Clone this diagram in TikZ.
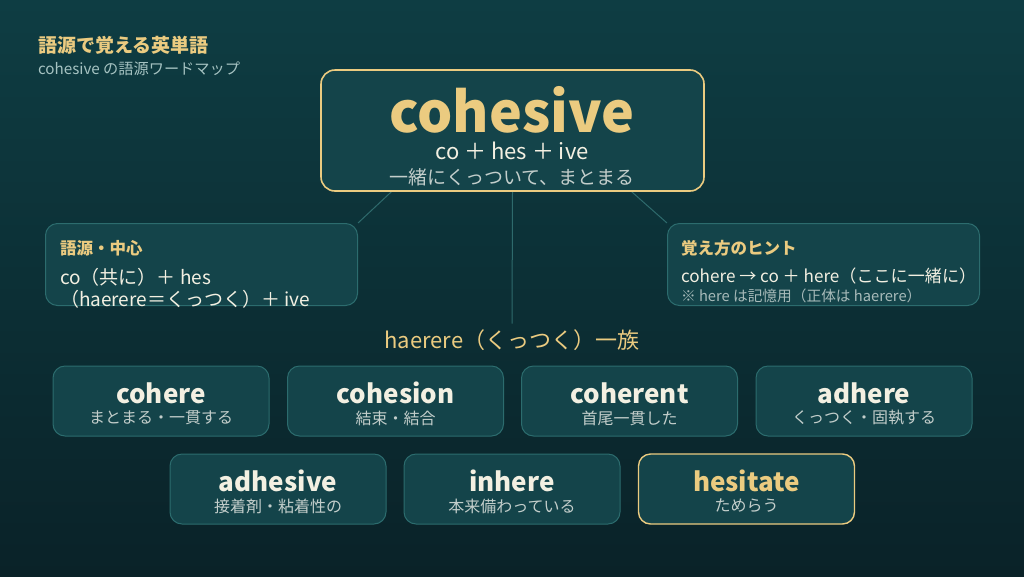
\documentclass[tikz,border=0pt]{standalone}
\usepackage{fontspec}
\setmainfont{Noto Sans CJK JP}
\usetikzlibrary{backgrounds,calc}
\definecolor{bgtop}{HTML}{0E3D43}
\definecolor{bgbot}{HTML}{0A2228}
\definecolor{boxfill}{HTML}{14444A}
\definecolor{boxline}{HTML}{2C6C6E}
\definecolor{gold}{HTML}{EBCB80}
\definecolor{cream}{HTML}{F3F0E2}
\definecolor{meaning}{HTML}{C3CECB}
\definecolor{subtle}{HTML}{A8BBBA}
\definecolor{subtitlec}{HTML}{A6C3C2}
\definecolor{conn}{HTML}{2E6A6C}
\begin{document}
\begin{tikzpicture}[x=1pt,y=-1pt,
  panel/.style={draw=boxline, line width=1pt, fill=boxfill, rounded corners=12pt, inner sep=0pt},
  mainpanel/.style={draw=gold, line width=1.6pt, fill=boxfill, rounded corners=14pt, inner sep=0pt, minimum width=383pt, minimum height=121pt},
  sidepanel/.style={panel, minimum width=312pt, minimum height=82pt},
  wbox/.style={panel, minimum width=216pt, minimum height=70pt},
  goldbox/.style={wbox, draw=gold, line width=1.4pt},
  txt/.style={inner sep=0pt, outer sep=0pt},
  wordtxt/.style={txt, text=cream, font=\fontsize{26}{30}\selectfont\bfseries},
  meantxt/.style={txt, text=meaning, font=\fontsize{16}{19}\selectfont},
  conline/.style={draw=conn, line width=1pt}]
\useasboundingbox (0,0) rectangle (1024,576);

% title
\node[txt, anchor=west, text=gold, font=\fontsize{19}{22}\selectfont\bfseries] (title) at (38,45) {語源で覚える英単語};
\node[txt, anchor=west, text=subtitlec, font=\fontsize{15.2}{18}\selectfont] (subtitle) at (38,69) {cohesive の語源ワードマップ};

% main box
\node[mainpanel] (main) at (512.5,130.5) {};
\node[txt, text=gold, font=\fontsize{55.5}{64}\selectfont\bfseries] (mainword) at (512,110) {cohesive};
\node[txt, text=cream, font=\fontsize{22}{26}\selectfont] (mainparts) at (512,151) {co ＋ hes ＋ ive};
\node[txt, text=meaning, font=\fontsize{19}{23}\selectfont] (mainmean) at (512,177) {一緒にくっついて、まとまる};

% left box
\node[sidepanel] (left) at (201.5,264.5) {};
\node[txt, anchor=west, text=gold, font=\fontsize{16.5}{19}\selectfont\bfseries] (lefthead) at (60,248) {語源・中心};
\node[txt, anchor=west, text=cream, font=\fontsize{19}{22}\selectfont] (leftl1) at (60,277) {co（共に）＋ hes};
\node[txt, anchor=west, text=cream, font=\fontsize{19}{22}\selectfont] (leftl2) at (60,299) {（haerere＝くっつく）＋ ive};

% right box
\node[sidepanel] (right) at (823.5,264.5) {};
\node[txt, anchor=west, text=gold, font=\fontsize{16.5}{19}\selectfont\bfseries] (righthead) at (681,248) {覚え方のヒント};
\node[txt, anchor=west, text=cream, font=\fontsize{17.1}{20}\selectfont] (rightl1) at (681,276) {cohere → co ＋ here（ここに一緒に）};
\node[txt, anchor=west, text=subtle, font=\fontsize{14.7}{17}\selectfont] (rightl2) at (681,296) {※ here は記憶用（正体は haerere）};

% family label
\node[txt, text=gold, font=\fontsize{22}{26}\selectfont] (family) at (512,340) {haerere（くっつく）一族};

% word boxes
\foreach \nm/\cx/\cy/\w/\m in {
  cohere/161/401/cohere/まとまる・一貫する,
  cohesion/395.5/401/cohesion/結束・結合,
  coherent/629.5/401/coherent/首尾一貫した,
  adhere/864/401/adhere/くっつく・固執する,
  adhesive/278/489/adhesive/接着剤・粘着性の,
  inhere/512/489/inhere/本来備わっている}{
  \node[wbox] (\nm) at (\cx,\cy) {};
  \node[wordtxt] (\nm-w) at (\cx,\cy-8) {\w};
  \node[meantxt] (\nm-m) at (\cx,\cy+17) {\m};
}
\node[goldbox] (hesitate) at (746.5,489) {};
\node[wordtxt, text=gold] (hesitate-w) at (746.5,481) {hesitate};
\node[meantxt] (hesitate-m) at (746.5,506) {ためらう};

\begin{scope}[on background layer]
  \shade[top color=bgtop, bottom color=bgbot] (0,0) rectangle (1024,576);
  \draw[conline] ($(main.south west)!0.185!(main.south east)$) -- (left.north east);
  \draw[conline] ($(main.south west)!0.81!(main.south east)$) -- (right.north west);
  \draw[conline] (main.south) -- ([yshift=6pt]family.north);
\end{scope}
\end{tikzpicture}
\end{document}
